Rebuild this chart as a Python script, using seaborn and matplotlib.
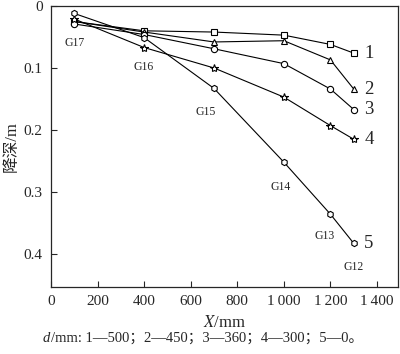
import matplotlib
matplotlib.use("Agg")
import matplotlib.pyplot as plt
import seaborn as sns
import pandas as pd

X_POS = [100, 400, 700, 1000, 1200, 1300]
S1 = [0.025, 0.040, 0.042, 0.047, 0.062, 0.076]
S2 = [0.025, 0.042, 0.058, 0.056, 0.087, 0.134]
S3 = [0.029, 0.046, 0.069, 0.093, 0.134, 0.167]
S4 = [0.021, 0.067, 0.100, 0.147, 0.193, 0.215]
S5 = [0.012, 0.051, 0.133, 0.252, 0.336, 0.383]
SERIES = ["1", "2", "3", "4", "5"]
VALUES = [S1, S2, S3, S4, S5]
MARKERS = ["s", "^", "o", "*", "h"]
WELLS = ["G17", "G16", "G15", "G14", "G13", "G12"]
WELL_X = [103, 399, 665, 987, 1176, 1300]
WELL_Y = [0.060, 0.098, 0.171, 0.292, 0.371, 0.421]
X_TICKS = [0, 200, 400, 600, 800, 1000, 1200, 1400]
X_TICK_LABELS = ["0", "200", "400", "600", "800", "1\u2009000", "1\u2009200", "1\u2009400"]
Y_TICKS = [0, 0.1, 0.2, 0.3, 0.4]
Y_TICK_LABELS = ["0", "0.1", "0.2", "0.3", "0.4"]
CAPTION = "/mm: 1—500；2—450；3—360；4—300；5—0。"

sns.set_style("ticks")
FAM = ["Liberation Serif", "Noto Sans CJK SC", "DejaVu Sans"]
plt.rcParams["font.family"] = FAM
plt.rcParams["mathtext.fontset"] = "stix"

fig = plt.figure(figsize=(4.0, 3.54), dpi=100)
ax = fig.add_axes([0.1275, 0.19, 0.8675, 0.793])

rows = []
for name, vals in zip(SERIES, VALUES):
    for x, y in zip(X_POS, vals):
        rows.append({"X": x, "depth": y, "series": name})
df = pd.DataFrame(rows)

for name, mk in zip(SERIES, MARKERS):
    sub = df[df["series"] == name]
    ms = 6 if mk == "*" else 4.5
    sns.lineplot(data=sub, x="X", y="depth", ax=ax, color="black", lw=0.8,
                 marker=mk, markersize=ms, markerfacecolor="white",
                 markeredgecolor="black", markeredgewidth=0.8, legend=False)

for name, vals in zip(SERIES, VALUES):
    ax.text(X_POS[-1] + 45, vals[-1], name, fontsize=13.5, va="center", ha="left")

for w, x, y in zip(WELLS, WELL_X, WELL_Y):
    ax.text(x, y, w, fontsize=8.5, ha="center", va="center")

ax.set_xlim(0, 1490)
ax.set_ylim(0.453, 0)
ax.set_xticks(X_TICKS)
ax.set_xticklabels(X_TICK_LABELS)
ax.set_yticks(Y_TICKS)
ax.set_yticklabels(Y_TICK_LABELS)
ax.tick_params(direction="in", labelsize=11, length=4, width=0.8, pad=6)
for s in ax.spines.values():
    s.set_linewidth(0.9)
ax.set_xlabel("$\\mathit{X}$/mm", fontsize=12, labelpad=5)
ax.set_ylabel("降深/m", fontsize=12, labelpad=3)

t1 = fig.text(43 / 400, 0.045, "d", fontsize=10.5, style="italic", ha="left", va="center",
              family=FAM)
fig.canvas.draw()
bb = t1.get_window_extent(renderer=fig.canvas.get_renderer())
fig.text(bb.x1 / 400 + 0.002, 0.045, CAPTION, fontsize=10.5, ha="left", va="center",
         family=FAM)

fig.savefig("out.png", dpi=100)
